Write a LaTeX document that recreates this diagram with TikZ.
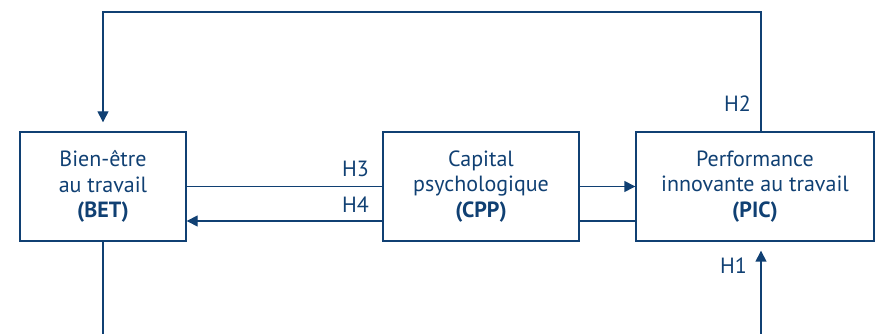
\documentclass[tikz,border=0pt]{standalone}
\usepackage{fontspec}
\setmainfont{PT Sans}
\usepackage{tikz}
\usetikzlibrary{
    arrows.meta,
    positioning
}
\usepackage{xcolor}
\definecolor{navy}{RGB}{16,64,115}

\begin{document}
\begin{tikzpicture}[
        x=1pt, y=1pt,
        >={Triangle[length=11pt,width=11pt]},
        every node/.style={
            text=navy,
            font=\fontsize{22}{25.5}\selectfont
        },
        construct/.style={
            draw=navy,
            line width=1.4pt,
            align=center,
            minimum height=109pt,
            inner sep=0pt
        },
        link/.style={draw=navy, line width=1.4pt},
        hyp/.style={anchor=base east, inner sep=0pt}
    ]
    \useasboundingbox (0,0) rectangle (881,334);

    \node[construct, minimum width=166pt] (BET) at (103,147.5) {Bien-être\\au travail\\\textbf{(BET)}};
    \node[construct, minimum width=196pt] (CPP) at (481,147.5) {Capital\\psychologique\\\textbf{(CPP)}};
    \node[construct, minimum width=238pt] (PIC) at (755,147.5) {Performance\\innovante au travail\\\textbf{(PIC)}};

    \coordinate (topL) at (103,322);
    \coordinate (topR) at (761,322);
    \coordinate (botR) at (761,0);
    \coordinate (lowY) at (0,113);

    % H2
    \draw[link, ->, shorten >=9pt] (topR |- PIC.north) -- (topR) -- (topL) -- (BET.north);
    % H3
    \draw[link] (BET.east) -- (CPP.west);
    \draw[link, ->] (CPP.east) -- (PIC.west);
    % H4
    \draw[link] (PIC.west |- lowY) -- (CPP.east |- lowY);
    \draw[link, ->] (CPP.west |- lowY) -- (BET.east |- lowY);
    % H1
    \draw[link] (BET.south) -- (BET.south |- botR);
    \draw[link, ->, shorten >=9pt] (botR) -- (botR |- PIC.south);

    \node[hyp] (H1) at (747,60) {H1};
    \node[hyp] (H2) at (751,222) {H2};
    \node[hyp] (H3) at (369,157) {H3};
    \node[hyp] (H4) at (369,121) {H4};

\end{tikzpicture}
\end{document}
